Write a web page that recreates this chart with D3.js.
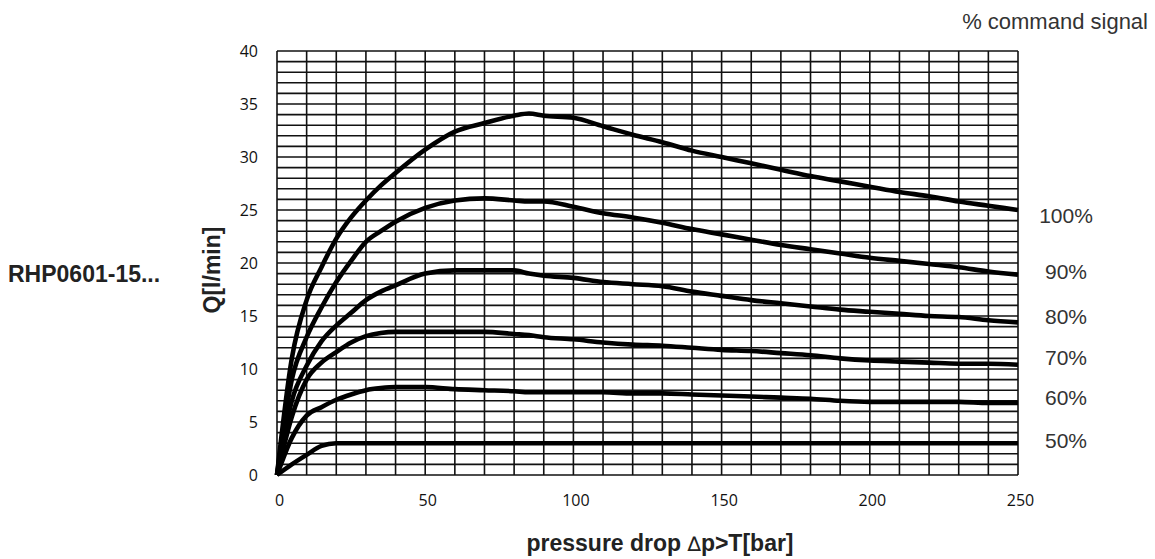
<!DOCTYPE html>
<html>
<head>
<meta charset="utf-8">
<script src="https://cdn.jsdelivr.net/npm/d3@7"></script>
<style>
  body { margin: 0; background: #fff; }
  svg { display: block; }
</style>
</head>
<body>
<div id="chart"></div>
<script>
// pressure drop (bar) sampled along every curve
const pressure = [0, 5, 10, 15, 20, 25, 30, 35, 40, 50, 60, 70, 80, 85, 90, 100, 110, 120, 130, 140, 150, 160, 170, 180, 190, 200, 210, 220, 230, 240, 250]

// flow Q (l/min) for each command signal
const q100 = [0, 11, 16.5, 19.6, 22.3, 24.3, 25.9, 27.3, 28.5, 30.7, 32.4, 33.2, 33.9, 34.1, 33.9, 33.7, 32.9, 32.1, 31.4, 30.6, 30.0, 29.4, 28.8, 28.2, 27.7, 27.2, 26.7, 26.3, 25.8, 25.4, 25.0]
const q90 = [0, 9, 13, 15.8, 18.2, 20.2, 22.0, 23.0, 23.9, 25.2, 25.9, 26.1, 25.9, 25.8, 25.8, 25.3, 24.7, 24.3, 23.8, 23.2, 22.7, 22.2, 21.7, 21.3, 20.9, 20.5, 20.2, 19.9, 19.6, 19.2, 18.9]
const q80 = [0, 7, 10.3, 12.6, 14.1, 15.3, 16.5, 17.3, 17.9, 19.0, 19.3, 19.3, 19.3, 19.0, 18.8, 18.6, 18.2, 18.0, 17.8, 17.3, 16.9, 16.5, 16.2, 15.9, 15.6, 15.4, 15.2, 15.0, 14.9, 14.6, 14.4]
const q70 = [0, 5.5, 9.0, 10.6, 11.6, 12.5, 13.1, 13.4, 13.5, 13.5, 13.5, 13.5, 13.3, 13.2, 13.0, 12.8, 12.5, 12.3, 12.2, 12.0, 11.8, 11.7, 11.5, 11.3, 11.0, 10.8, 10.7, 10.6, 10.5, 10.5, 10.4]
const q60 = [0, 3.5, 5.6, 6.4, 7.1, 7.6, 8.0, 8.2, 8.3, 8.3, 8.1, 8.0, 7.9, 7.8, 7.8, 7.8, 7.8, 7.7, 7.7, 7.6, 7.5, 7.4, 7.3, 7.2, 7.0, 6.9, 6.9, 6.9, 6.9, 6.8, 6.8]
const q50 = [0, 1.0, 1.9, 2.75, 3.0, 3.0, 3.0, 3.0, 3.0, 3.0, 3.0, 3.0, 3.0, 3.0, 3.0, 3.0, 3.0, 3.0, 3.0, 3.0, 3.0, 3.0, 3.0, 3.0, 3.0, 3.0, 3.0, 3.0, 3.0, 3.0, 3.0]

const signals = ["100%", "90%", "80%", "70%", "60%", "50%"]
const flows = [q100, q90, q80, q70, q60, q50]
// where each percent label sits (baseline), in Q units
const labelQ = [23.8, 18.5, 14.2, 10.4, 6.6, 2.55]

const xTicks = [0, 50, 100, 150, 200, 250]
const yTicks = [0, 5, 10, 15, 20, 25, 30, 35, 40]

const width = 1155,
      height = 559

const margin = { top: 51, right: 137, bottom: 84, left: 277 }

const svg = d3.select("#chart")
    .append("svg")
    .attr("width", width)
    .attr("height", height)

const x = d3.scaleLinear()
    .domain([0, 250])
    .range([margin.left, width - margin.right])

const y = d3.scaleLinear()
    .domain([0, 40])
    .range([height - margin.bottom, margin.top])

// grid: every 10 bar and every 1 l/min
const grid = svg.append("g")
    .attr("stroke", "#111")
    .attr("stroke-width", 1.6)

grid.selectAll(".vline")
    .data(d3.range(0, 251, 10))
    .join("line")
    .attr("class", "vline")
    .attr("x1", d => x(d)).attr("x2", d => x(d))
    .attr("y1", y(0)).attr("y2", y(40))

grid.selectAll(".hline")
    .data(d3.range(0, 41, 1))
    .join("line")
    .attr("class", "hline")
    .attr("x1", x(0)).attr("x2", x(250))
    .attr("y1", d => y(d)).attr("y2", d => y(d))

// axes (labels only)
const xAxis = svg.append("g")
    .attr("transform", `translate(0, ${y(0)})`)
    .call(d3.axisBottom(x).tickValues(xTicks).tickSize(0).tickPadding(20))
const yAxis = svg.append("g")
    .attr("transform", `translate(${x(0)}, 0)`)
    .call(d3.axisLeft(y).tickValues(yTicks).tickSize(0).tickPadding(19))

for (const ax of [xAxis, yAxis]) {
    ax.select(".domain").remove()
    ax.selectAll("text")
        .attr("font-family", "Open Sans, sans-serif")
        .attr("font-size", "16px")
        .attr("fill", "#111")
}
xAxis.selectAll("text").attr("dx", "2")

// curves
const line = d3.line()
    .x((d, i) => x(pressure[i]))
    .y(d => y(d))
    .curve(d3.curveMonotoneX)

svg.append("g")
    .selectAll("path")
    .data(flows)
    .join("path")
    .attr("fill", "none")
    .attr("stroke", "#000")
    .attr("stroke-width", 4.6)
    .attr("stroke-linejoin", "round")
    .attr("d", line)

// percent labels
svg.append("g")
    .selectAll("text")
    .data(signals)
    .join("text")
    .attr("x", 1066)
    .attr("y", (d, i) => y(labelQ[i]))
    .attr("text-anchor", "middle")
    .attr("font-family", "Liberation Sans, Arial, sans-serif")
    .attr("font-size", "21px")
    .attr("fill", "#333")
    .text(d => d)

svg.append("text")
    .attr("x", 1148)
    .attr("y", 29)
    .attr("text-anchor", "end")
    .attr("font-family", "Liberation Sans, Arial, sans-serif")
    .attr("font-size", "22px")
    .attr("fill", "#333")
    .text("% command signal")

// titles
const xTitle = svg.append("text")
    .attr("x", 660)
    .attr("y", 551)
    .attr("text-anchor", "middle")
    .attr("font-family", "Liberation Sans, Arial, sans-serif")
    .attr("font-weight", "bold")
    .attr("font-size", "23px")
    .attr("fill", "#222")
xTitle.append("tspan").text("pressure drop ")
xTitle.append("tspan").attr("font-weight", "normal").attr("font-family", "DejaVu Sans, sans-serif").attr("font-size", "20px").text("\u2206")
xTitle.append("tspan").text("p>T[bar]")

svg.append("text")
    .attr("transform", `translate(220, 270) rotate(-90)`)
    .attr("text-anchor", "middle")
    .attr("font-family", "Liberation Sans, Arial, sans-serif")
    .attr("font-weight", "bold")
    .attr("font-size", "23px")
    .attr("fill", "#222")
    .text("Q[l/min]")

svg.append("text")
    .attr("x", 8)
    .attr("y", 282)
    .attr("font-family", "Liberation Sans, Arial, sans-serif")
    .attr("font-weight", "bold")
    .attr("font-size", "23px")
    .attr("fill", "#222")
    .text("RHP0601-15...")
</script>
</body>
</html>
